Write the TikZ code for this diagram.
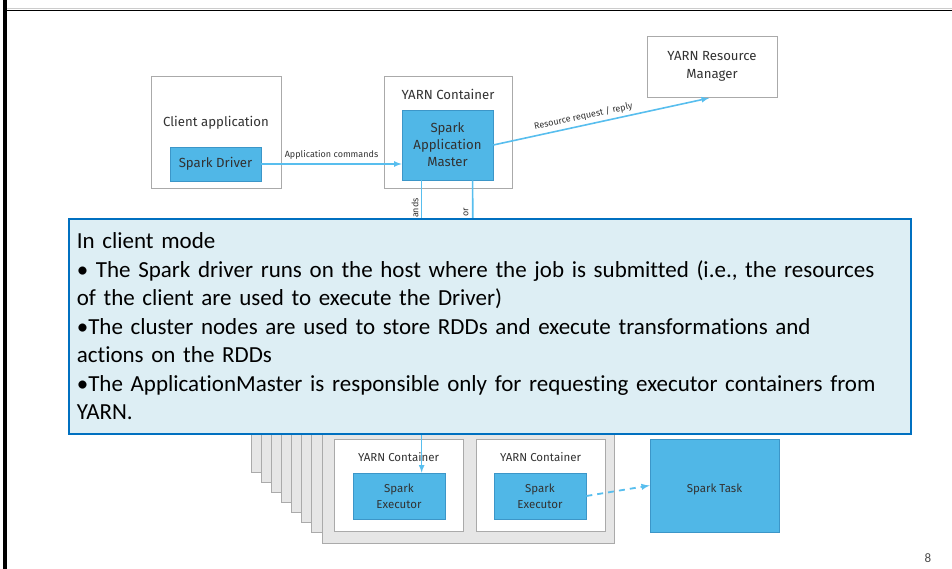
\documentclass[tikz,border=0pt]{standalone}
\usepackage{fontspec}
\setmainfont{Carlito}[WordSpace=0.8, Ligatures=NoCommon]
\newfontfamily\diagfont{Fira Sans}
\usetikzlibrary{calc}

\definecolor{sparkblue}{RGB}{80,183,231}
\definecolor{sparkedge}{RGB}{60,150,200}
\definecolor{flowblue}{RGB}{88,190,238}
\definecolor{boxgray}{RGB}{170,170,170}
\definecolor{stackgray}{RGB}{230,230,230}
\definecolor{labelgray}{RGB}{50,50,50}
\definecolor{notefill}{RGB}{221,238,244}
\definecolor{noteedge}{RGB}{0,112,192}

\begin{document}
\begin{tikzpicture}[x=1pt, y=-1pt, >=latex,
    box/.style = {draw=boxgray, fill=white, line width=0.9pt},
    sparkbox/.style = {draw=sparkedge, fill=sparkblue, line width=0.7pt, align=center,
        text=labelgray, font=\diagfont\fontsize{11.5}{16}\selectfont},
    bigtext/.style = {text=labelgray, align=center, font=\diagfont\fontsize{13.2}{17.5}\selectfont},
    smalltext/.style = {text=labelgray, font=\diagfont\fontsize{9}{11}\selectfont},
    flow/.style = {->, draw=flowblue, line width=1.6pt}]
    \useasboundingbox (0, 0) rectangle (952, 569);

    % slide frame
    \draw[gray!40, line width=0.8pt] (7, 8) -- (952, 8);
    \draw[black, line width=1.6pt] (5, 10.5) -- (952, 10.5);
    \draw[black, line width=3.5pt] (5, 0) -- (5, 569);

    % client side
    \node[box, minimum width=130, minimum height=112] (client) at (216, 132) {};
    \node[bigtext] (clientlabel) at (216, 123) {Client application};
    \node[sparkbox, font=\diagfont\fontsize{13.2}{17.5}\selectfont,
        minimum width=91, minimum height=34] (driver) at (215.5, 164) {Spark Driver};

    % application master
    \node[box, minimum width=128, minimum height=112] (amcontainer) at (448, 132) {};
    \node[bigtext] (amlabel) at (448, 94) {YARN Container};
    \node[sparkbox, font=\diagfont\fontsize{13.2}{17}\selectfont,
        minimum width=91, minimum height=70] (am) at (447.5, 145) {Spark\\Application\\Master};

    % resource manager
    \node[box, bigtext, minimum width=130, minimum height=61] (rm) at (712, 66.5) {YARN Resource\\Manager};

    \draw[flow] (driver.east) -- node[smalltext, above] {Application commands} (driver.east -| am.west);
    \draw[flow, shorten >=3pt] (am.east) -- node[smalltext, sloped, above, pos=0.42] {Resource request / reply} (rm.south);

    % worker nodes, stacked
    \foreach \i in {0,...,6}
        \draw[draw=boxgray, fill=stackgray, line width=0.9pt]
            (251+10.14*\i, 425-10.14*7+10.14*\i) rectangle (614-10.14*7+10.14*\i, 472+10.14*\i);
    \node[draw=boxgray, fill=stackgray, line width=0.9pt, minimum width=292, minimum height=118] (worker) at (468, 484) {};

    \node[box, minimum width=129, minimum height=92] (execbox1) at (398.5, 485) {};
    \node[text=labelgray, font=\diagfont\fontsize{11.5}{14}\selectfont] (execlabel1) at (398.5, 457) {YARN Container};
    \node[sparkbox, minimum width=92, minimum height=46] (exec1) at (399, 496) {Spark\\Executor};

    \node[box, minimum width=129, minimum height=92] (execbox2) at (540.5, 485) {};
    \node[text=labelgray, font=\diagfont\fontsize{11.5}{14}\selectfont] (execlabel2) at (540.5, 457) {YARN Container};
    \node[sparkbox, minimum width=92, minimum height=46] (exec2) at (540, 496) {Spark\\Executor};

    \node[sparkbox, minimum width=129, minimum height=93, text height=14pt, text depth=0pt] (task) at (714.5, 485.5) {Spark Task};
    \draw[flow, dashed, dash pattern=on 6pt off 5pt, line width=1.8pt] (exec2.east) -- (task.west);

    % links from the application master
    \coordinate (hidden) at (473, 330);
    \draw[flow] ([xshift=20pt]am.south west) -- ([xshift=20pt]am.south west |- exec1.north);
    \draw[flow, -] ([xshift=71pt]am.south west) -- (hidden);
    \node[smalltext, rotate=90, anchor=east, inner sep=1pt] (cmdlabel) at (415, 197) {ands};
    \node[smalltext, rotate=90, anchor=east, inner sep=1pt] (launchlabel) at (466, 207) {or};

    % callout
    \node[draw=noteedge, fill=notefill, line width=1.6pt, anchor=north west,
        minimum width=841, minimum height=215, text width=826, inner xsep=8pt, align=left,
        font=\fontsize{23}{28.5}\selectfont] (note) at (68, 218)
        {In client mode\\
        • The Spark driver runs on the host where the job is submitted (i.e., the resources\\
        of the client are used to execute the Driver)\\
        •The cluster nodes are used to store RDDs and execute transformations and\\
        actions on the RDDs\\
        •The ApplicationMaster is responsible only for requesting executor containers from\\
        YARN.};

    \node[text=black!70, font=\fontsize{13}{15}\selectfont] (pagenum) at (928, 558) {8};
\end{tikzpicture}
\end{document}
